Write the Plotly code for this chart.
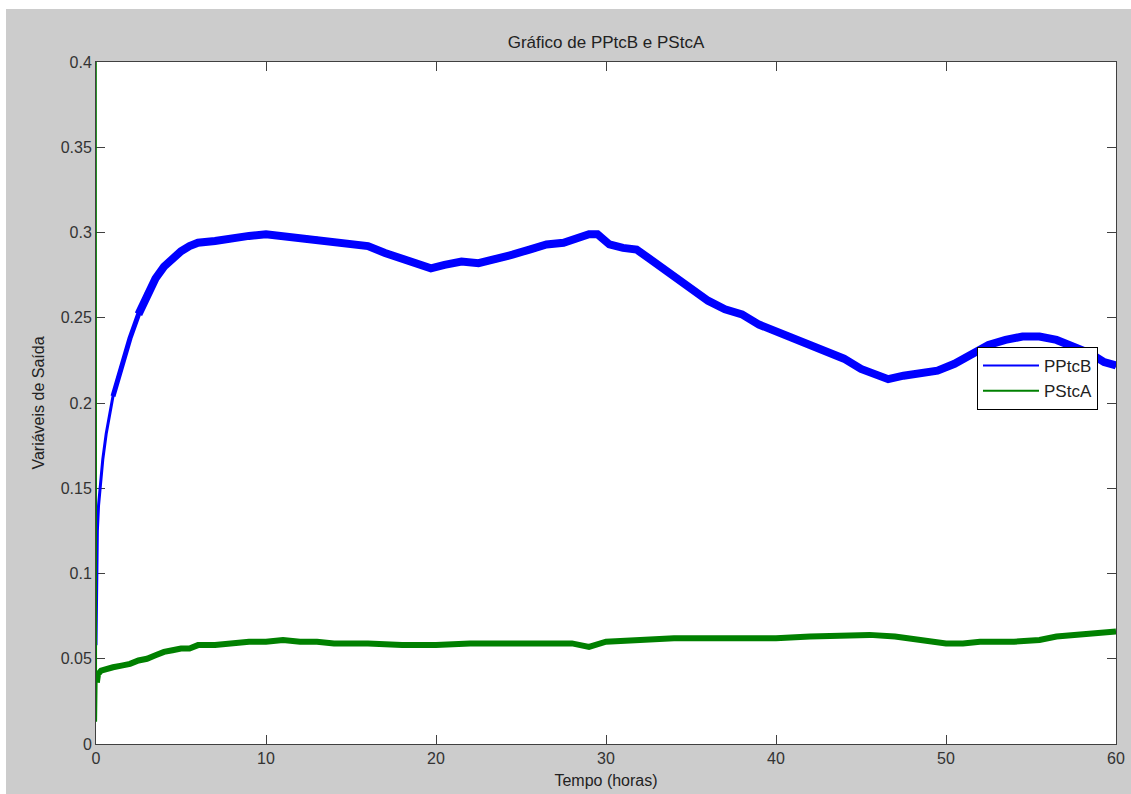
import plotly.graph_objects as go

# ---------------- data ----------------
tempo_b = [0, 0.03, 0.08, 0.15, 0.25, 0.4, 0.6, 0.8, 1.0, 1.3, 1.6, 2.0, 2.5, 3.0, 3.5,
           4.0, 4.5, 5.0, 5.5, 6.0, 7.0, 8.0, 9.0, 10.0, 11.0, 12.0, 13.0, 14.0, 15.0,
           16.0, 17.0, 18.0, 19.0, 19.7, 20.5, 21.5, 22.5, 23.5, 24.5, 25.5, 26.5, 27.5,
           28.3, 29.0, 29.5, 30.2, 31.0, 31.8, 32.5, 33.3, 34.0, 35.0, 36.0, 37.0, 38.0,
           39.0, 40.0, 41.0, 42.0, 43.0, 44.0, 45.0, 46.0, 46.6, 47.5, 48.5, 49.5, 50.5,
           51.5, 52.5, 53.5, 54.5, 55.5, 56.5, 57.5, 58.5, 59.3, 60.0]
pptcb = [0.058, 0.100, 0.125, 0.140, 0.153, 0.167, 0.182, 0.194, 0.204, 0.215, 0.225,
         0.238, 0.252, 0.264, 0.273, 0.280, 0.285, 0.289, 0.292, 0.294, 0.295, 0.297,
         0.298, 0.299, 0.298, 0.297, 0.296, 0.294, 0.293, 0.292, 0.288, 0.285, 0.281,
         0.279, 0.281, 0.283, 0.282, 0.284, 0.287, 0.290, 0.293, 0.294, 0.297, 0.299,
         0.299, 0.293, 0.291, 0.290, 0.285, 0.279, 0.274, 0.267, 0.260, 0.255, 0.252,
         0.246, 0.242, 0.238, 0.234, 0.230, 0.226, 0.220, 0.216, 0.214, 0.216, 0.217,
         0.219, 0.223, 0.228, 0.234, 0.237, 0.239, 0.239, 0.237, 0.233, 0.229, 0.224,
         0.222]

tempo_a = [0, 0.02, 0.05, 0.12, 0.3, 0.6, 1.0, 1.5, 2.0, 2.5, 3.0, 3.5, 4.0, 4.5, 5.0,
           5.5, 6.0, 7.0, 8.0, 9.0, 10.0, 11.0, 12.0, 13.0, 14.0, 16.0, 18.0, 20.0, 22.0,
           24.0, 26.0, 28.0, 29.0, 30.0, 32.0, 34.0, 36.0, 38.0, 40.0, 42.0, 44.0, 45.5,
           47.0, 48.5, 50.0, 51.0, 52.0, 54.0, 55.5, 56.5, 57.5, 58.5, 59.3, 60.0]
pstca = [0.5, 0.013, 0.036, 0.041, 0.043, 0.044, 0.045, 0.046, 0.047, 0.049, 0.050,
         0.052, 0.054, 0.055, 0.056, 0.056, 0.058, 0.058, 0.059, 0.060, 0.060, 0.061,
         0.060, 0.060, 0.059, 0.059, 0.058, 0.058, 0.059, 0.059, 0.059, 0.059, 0.057,
         0.060, 0.061, 0.062, 0.062, 0.062, 0.062, 0.063, 0.064, 0.064, 0.063, 0.061,
         0.059, 0.059, 0.060, 0.060, 0.061, 0.063, 0.064, 0.065, 0.066, 0.066]

series_names = ["PPtcB", "PStcA"]
x_ticks = [0, 10, 20, 30, 40, 50, 60]
y_ticks = [0, 0.05, 0.1, 0.15, 0.2, 0.25, 0.3, 0.35, 0.4]
y_tick_labels = ["0", "0.05", "0.1", "0.15", "0.2", "0.25", "0.3", "0.35", "0.4"]

# ---------------- figure ----------------
W, H = 1131, 794
L, R, T, B = 96, 15, 62, 50
BLUE = "#0000ff"
GREEN = "#008000"
FONT = "Liberation Sans, Arial, sans-serif"

fig = go.Figure()

# indices where the noise band widens
kb1 = tempo_b.index(1.0)
kb2 = tempo_b.index(2.5)
ka = tempo_a.index(0.05)

fig.add_trace(go.Scatter(x=tempo_b, y=pptcb, mode="lines", showlegend=False,
                         line=dict(color=BLUE, width=3), hoverinfo="skip"))
fig.add_trace(go.Scatter(x=tempo_b[kb1:], y=pptcb[kb1:], mode="lines", showlegend=False,
                         line=dict(color=BLUE, width=5), hoverinfo="skip"))
fig.add_trace(go.Scatter(x=tempo_b[kb2:], y=pptcb[kb2:], mode="lines", showlegend=False,
                         line=dict(color=BLUE, width=8), hoverinfo="skip"))
fig.add_trace(go.Scatter(x=tempo_a, y=pstca, mode="lines", showlegend=False,
                         line=dict(color=GREEN, width=1.5), hoverinfo="skip"))
fig.add_trace(go.Scatter(x=tempo_a[ka:], y=pstca[ka:], mode="lines", showlegend=False,
                         line=dict(color=GREEN, width=6), hoverinfo="skip"))

# legend entries
fig.add_trace(go.Scatter(x=[None], y=[None], mode="lines", name=series_names[0],
                         line=dict(color=BLUE, width=2)))
fig.add_trace(go.Scatter(x=[None], y=[None], mode="lines", name=series_names[1],
                         line=dict(color=GREEN, width=2)))

pw = W - L - R
ph = H - T - B

axis_common = dict(
    showgrid=False, zeroline=False, showline=True, linecolor="#404040", linewidth=1,
    mirror="ticks", ticks="inside", ticklen=9, tickcolor="#404040", tickwidth=1,
    automargin=False,
    tickfont=dict(family=FONT, size=16, color="#333333"),
)

fig.update_layout(
    width=W, height=H,
    margin=dict(l=L, r=R, t=T, b=B, autoexpand=False),
    paper_bgcolor="#cccccc",
    plot_bgcolor="#ffffff",
    font=dict(family=FONT, size=16, color="#222222"),
    title=dict(text="Gráfico de PPtcB e PStcA", x=0.5, xref="paper", xanchor="center",
               y=1 - 42 / H, yref="container", yanchor="middle",
               font=dict(family=FONT, size=17, color="#222222")),
    xaxis=dict(range=[0, 60], tickvals=x_ticks, ticktext=[str(v) for v in x_ticks],
               title=dict(text="Tempo (horas)", standoff=8,
                          font=dict(family=FONT, size=16, color="#222222")),
               **axis_common),
    yaxis=dict(range=[0, 0.4], tickvals=y_ticks, ticktext=y_tick_labels,
               layer="below traces",
               title=dict(text="Variáveis de Saída", standoff=12,
                          font=dict(family=FONT, size=16, color="#222222")),
               **axis_common),
    legend=dict(x=(977 - L) / pw, y=(H - B - 347) / ph, xanchor="left", yanchor="top",
                bgcolor="#ffffff", bordercolor="#000000", borderwidth=1,
                font=dict(family=FONT, size=17, color="#222222"),
                itemwidth=56, tracegroupgap=0),
    showlegend=True,
)

# white page strips at top and left (outside the gray figure)
fig.add_shape(type="rect", xref="paper", yref="paper", layer="below",
              x0=-L / pw, x1=(6 - L) / pw, y0=-B / ph - 0.01, y1=(H - B) / ph + 0.01,
              fillcolor="#ffffff", line=dict(width=0))
fig.add_shape(type="rect", xref="paper", yref="paper", layer="below",
              x0=-L / pw, x1=(W - L) / pw + 0.01, y0=(H - B - 9) / ph, y1=(H - B) / ph + 0.01,
              fillcolor="#ffffff", line=dict(width=0))

fig.write_html("out.html")
